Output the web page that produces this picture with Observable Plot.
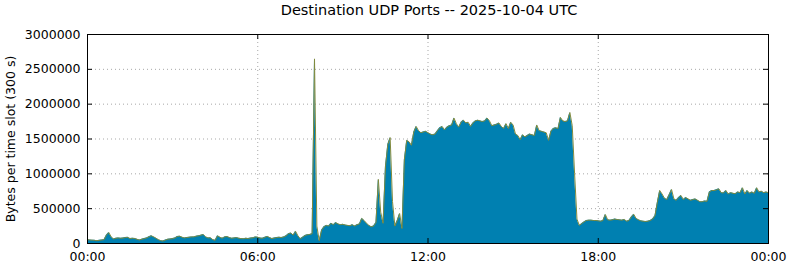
<!DOCTYPE html>
<html><head><meta charset="utf-8">
<script src="https://cdn.jsdelivr.net/npm/d3@7"></script>
<script src="https://cdn.jsdelivr.net/npm/@observablehq/plot@0.6"></script>
<style>
body{margin:0;background:#fff;font-family:"DejaVu Sans",sans-serif;}
#title{height:22px;width:790px;position:relative;}
#title span{position:absolute;left:429px;top:2px;transform:translateX(-50%);font-size:14.5px;white-space:nowrap;color:#000;}
</style></head><body>
<div id="title"><span>Destination UDP Ports -- 2025-10-04 UTC</span></div>
<div id="chart"></div>
<script>
// Bytes per 5-minute slot (in thousands), 00:00 .. 24:00 (289 slots)
const udpBytesK = [
  55,50,48,45,40,45,50,55,120,158,96,65,
  75,80,75,78,85,88,70,75,72,60,50,62,
  70,80,96,110,95,75,55,40,35,50,62,65,
  70,80,100,105,90,80,85,90,95,95,105,110,
  120,128,95,80,82,55,45,110,90,75,95,100,
  85,75,80,85,75,70,68,75,70,78,82,95,
  90,78,75,88,102,85,70,78,85,90,85,95,
  110,140,150,120,175,110,67,90,115,125,130,140,
  2650,250,40,190,240,260,250,290,270,300,280,270,
  275,265,260,255,270,250,270,280,360,330,290,260,
  240,250,300,920,450,290,1100,1420,1520,600,250,330,
  430,215,1200,1480,1460,1410,1600,1680,1620,1590,1600,1610,
  1590,1570,1560,1570,1620,1660,1680,1630,1670,1690,1700,1800,
  1720,1670,1740,1770,1730,1740,1680,1730,1760,1770,1760,1750,
  1760,1800,1760,1690,1700,1710,1730,1680,1650,1720,1650,1740,
  1700,1570,1550,1490,1560,1530,1550,1570,1560,1550,1700,1620,
  1610,1600,1590,1480,1610,1650,1660,1650,1810,1760,1750,1760,
  1880,1690,1000,350,260,285,310,330,335,335,330,330,
  325,320,330,416,340,335,340,350,345,340,335,345,
  320,330,380,420,360,340,325,320,315,320,330,350,
  400,590,760,710,650,630,700,775,640,620,660,690,
  630,660,640,620,630,640,620,600,600,610,605,740,
  760,760,770,785,730,725,760,710,730,720,715,740,
  730,800,710,760,720,740,720,800,740,750,730,740,
  730
];
const slotMinutes = 5;
const xTickValues = [0, 6, 12, 18, 24];
const xTickLabels = ["00:00", "06:00", "12:00", "18:00", "00:00"];
const xGridValues = [6, 12, 18];
const yTickValues = [0, 500000, 1000000, 1500000, 2000000, 2500000, 3000000];
const yGridValues = [500000, 1000000, 1500000, 2000000, 2500000];
const yLabel = "Bytes per time slot (300 s)";

const rows = udpBytesK.map((v, i) => ({h: i * slotMinutes / 60, bytes: v * 1000}));

const W = 790, H = 245, ML = 87, MR = 22, MT = 12, MB = 24;
const fw = W - ML - MR, fh = H - MT - MB, tick = 5;
const grid = {stroke: "#a8a8a8", strokeWidth: 1, strokeDasharray: "1,3"};

const chart = Plot.plot({
  width: W, height: H,
  marginLeft: ML, marginRight: MR, marginTop: MT, marginBottom: MB,
  style: {fontFamily: "DejaVu Sans", fontSize: "13px", background: "white", color: "black", overflow: "visible"},
  x: {domain: [0, 24]},
  y: {domain: [0, 3000000]},
  marks: [
    Plot.ruleY(yGridValues, grid),
    Plot.ruleX(xGridValues, grid),
    Plot.areaY(rows, {x: "h", y: "bytes", fill: "#0080b1"}),
    Plot.lineY(rows, {x: "h", y: "bytes", stroke: "#7f8a3e", strokeWidth: 1}),
    Plot.tickY(yTickValues, {stroke: "black", insetRight: fw - tick}),
    Plot.tickY(yTickValues, {stroke: "black", insetLeft: fw - tick}),
    Plot.tickX(xTickValues, {stroke: "black", insetTop: fh - tick}),
    Plot.tickX(xTickValues, {stroke: "black", insetBottom: fh - tick}),
    Plot.frame({stroke: "black"}),
    Plot.axisY({ticks: yTickValues, tickSize: 0, tickPadding: 7, tickFormat: d3.format("d"),
      label: yLabel, labelAnchor: "center", labelArrow: "none", labelOffset: 81, fontSize: 12.5}),
    Plot.axisX({ticks: xTickValues, tickSize: 0, tickPadding: 9, tickFormat: (d, i) => xTickLabels[i],
      label: null, fontSize: 12.5})
  ]
});
document.getElementById("chart").appendChild(chart);
</script>
</body></html>
